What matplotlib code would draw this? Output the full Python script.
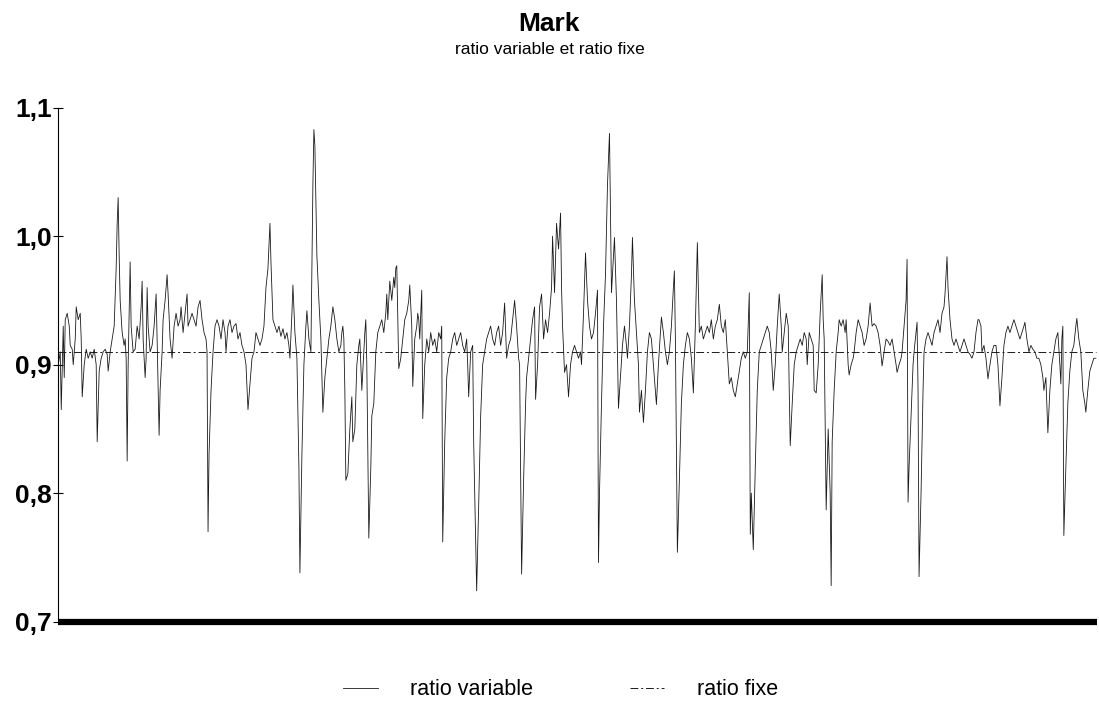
import matplotlib
matplotlib.use('Agg')
import matplotlib.pyplot as plt

plt.rcParams['font.family'] = ['Liberation Sans', 'DejaVu Sans']

# ---- data : ratio journalier (variable) et ratio fixe ----
jours = [
    0, 2, 3, 5, 6, 7, 9, 11, 12, 14, 15, 17, 18, 20, 22, 23, 24, 26, 28, 30,
    32, 34, 36, 38, 39, 41, 43, 45, 47, 49, 50, 52, 54, 56, 58, 59, 60, 61, 62, 64,
    66, 67, 68, 69, 70, 72, 73, 75, 77, 79, 81, 83, 84, 85, 87, 88, 89, 90, 92, 94,
    96, 98, 99, 101, 102, 104, 105, 107, 109, 110, 112, 114, 116, 118, 120, 122, 123, 125, 127, 129,
    130, 132, 134, 136, 138, 140, 142, 144, 146, 148, 149, 150, 151, 153, 155, 157, 159, 161, 163, 165,
    167, 168, 170, 172, 174, 176, 178, 180, 182, 184, 186, 188, 190, 192, 194, 196, 198, 200, 202, 204,
    206, 208, 210, 212, 213, 215, 217, 219, 221, 223, 225, 227, 229, 231, 232, 234, 235, 237, 239, 241,
    242, 244, 246, 248, 249, 251, 253, 255, 256, 257, 259, 261, 263, 265, 267, 269, 271, 273, 275, 277,
    279, 281, 283, 284, 285, 286, 287, 288, 290, 292, 294, 295, 297, 299, 301, 302, 303, 304, 306, 307,
    308, 309, 311, 313, 314, 316, 318, 320, 322, 324, 326, 328, 329, 330, 332, 334, 336, 337, 338, 339,
    341, 343, 345, 347, 349, 351, 352, 354, 355, 357, 359, 360, 361, 362, 364, 365, 367, 369, 371, 373,
    375, 377, 379, 381, 383, 384, 385, 387, 389, 391, 393, 395, 397, 399, 401, 403, 405, 407, 409, 410,
    411, 413, 415, 416, 418, 419, 421, 423, 425, 427, 429, 431, 433, 435, 437, 439, 441, 443, 445, 447,
    449, 451, 453, 455, 457, 459, 461, 462, 464, 466, 468, 469, 471, 473, 475, 477, 478, 480, 482, 484,
    486, 488, 490, 492, 494, 495, 497, 499, 501, 503, 504, 505, 507, 509, 511, 513, 515, 517, 519, 521,
    523, 524, 526, 528, 530, 532, 534, 536, 538, 540, 541, 542, 544, 546, 548, 550, 552, 553, 554, 556,
    557, 559, 561, 563, 565, 567, 569, 570, 572, 574, 575, 577, 579, 581, 582, 584, 586, 588, 590, 592,
    594, 596, 599, 601, 603, 604, 606, 608, 610, 612, 614, 616, 617, 618, 620, 622, 624, 626, 628, 630,
    632, 634, 636, 638, 640, 641, 642, 644, 646, 648, 650, 652, 654, 656, 658, 660, 662, 664, 666, 668,
    670, 672, 674, 676, 678, 680, 682, 684, 686, 688, 690, 692, 693, 694, 696, 698, 700, 702, 704, 706,
    708, 710, 712, 714, 716, 718, 720, 722, 724, 725, 727, 729, 731, 732, 733, 735, 737, 739, 741, 743,
    745, 747, 749, 750, 752, 754, 756, 757, 759, 761, 763, 765, 766, 767, 769, 771, 773, 774, 775, 777,
    779, 781, 782, 784, 786, 788, 789, 791, 792, 794, 796, 797, 799, 801, 803, 805, 807, 809, 811, 813,
    815, 817, 819, 821, 823, 825, 827, 829, 831, 833, 835, 837, 839, 840, 842, 844, 845, 847, 849, 850,
    851, 852, 854, 856, 857, 859, 860, 861, 862, 864, 866, 867, 869, 871, 873, 875, 877, 879, 881, 883,
    885, 887, 888, 890, 891, 893, 895, 897, 899, 901, 903, 905, 907, 909, 911, 913, 915, 917, 919, 921,
    922, 924, 925, 927, 929, 931, 933, 935, 937, 939, 941, 943, 945, 947, 949, 951, 953, 955, 957, 959,
    961, 963, 965, 967, 968, 970, 972, 974, 976, 978, 980, 982, 984, 986, 987, 989, 991, 993, 995, 997,
    999, 1001, 1003, 1004, 1005, 1006, 1007, 1009, 1011, 1013, 1015, 1017, 1019, 1020, 1022, 1024, 1026, 1028, 1029, 1031,
    1033, 1035, 1037, 1039,
]

ratio_variable = [
    0.900, 0.910, 0.865, 0.930, 0.890, 0.935, 0.940, 0.930, 0.915, 0.912, 0.900, 0.920, 0.945, 0.935, 0.940, 0.920, 0.875, 0.900, 0.912, 0.905,
    0.910, 0.905, 0.912, 0.900, 0.840, 0.895, 0.905, 0.910, 0.912, 0.908, 0.895, 0.910, 0.920, 0.930, 0.975, 1.010, 1.030, 0.985, 0.950, 0.925,
    0.915, 0.920, 0.905, 0.825, 0.900, 0.980, 0.930, 0.910, 0.912, 0.930, 0.920, 0.945, 0.965, 0.920, 0.890, 0.905, 0.960, 0.930, 0.910, 0.915,
    0.930, 0.955, 0.920, 0.845, 0.880, 0.910, 0.935, 0.950, 0.970, 0.955, 0.920, 0.905, 0.930, 0.940, 0.930, 0.935, 0.945, 0.925, 0.940, 0.955,
    0.930, 0.935, 0.940, 0.935, 0.930, 0.945, 0.950, 0.935, 0.925, 0.920, 0.910, 0.770, 0.830, 0.880, 0.910, 0.930, 0.935, 0.930, 0.920, 0.935,
    0.925, 0.910, 0.930, 0.935, 0.925, 0.930, 0.932, 0.920, 0.925, 0.915, 0.910, 0.900, 0.865, 0.885, 0.905, 0.910, 0.925, 0.920, 0.915, 0.920,
    0.930, 0.960, 0.975, 1.010, 0.980, 0.935, 0.930, 0.925, 0.930, 0.922, 0.928, 0.920, 0.925, 0.915, 0.905, 0.940, 0.962, 0.925, 0.905, 0.820,
    0.738, 0.830, 0.900, 0.930, 0.942, 0.920, 0.910, 1.040, 1.083, 1.070, 0.985, 0.950, 0.920, 0.863, 0.890, 0.905, 0.920, 0.930, 0.945, 0.935,
    0.920, 0.910, 0.915, 0.925, 0.930, 0.920, 0.880, 0.810, 0.815, 0.850, 0.875, 0.840, 0.850, 0.900, 0.915, 0.920, 0.900, 0.880, 0.910, 0.925,
    0.935, 0.900, 0.765, 0.820, 0.860, 0.870, 0.910, 0.925, 0.930, 0.935, 0.925, 0.940, 0.955, 0.935, 0.965, 0.950, 0.968, 0.960, 0.975, 0.977,
    0.897, 0.905, 0.920, 0.935, 0.940, 0.950, 0.962, 0.930, 0.883, 0.920, 0.930, 0.940, 0.935, 0.920, 0.958, 0.858, 0.900, 0.920, 0.910, 0.925,
    0.915, 0.920, 0.910, 0.925, 0.920, 0.930, 0.762, 0.840, 0.890, 0.905, 0.910, 0.920, 0.925, 0.915, 0.920, 0.925, 0.915, 0.910, 0.920, 0.900,
    0.875, 0.910, 0.915, 0.840, 0.760, 0.724, 0.790, 0.860, 0.900, 0.910, 0.920, 0.925, 0.930, 0.920, 0.915, 0.925, 0.930, 0.915, 0.925, 0.948,
    0.905, 0.915, 0.920, 0.935, 0.950, 0.930, 0.905, 0.900, 0.737, 0.810, 0.870, 0.890, 0.905, 0.920, 0.935, 0.945, 0.873, 0.900, 0.945, 0.955,
    0.920, 0.935, 0.925, 0.940, 0.960, 1.000, 0.956, 1.010, 0.990, 1.018, 0.960, 0.930, 0.894, 0.900, 0.875, 0.900, 0.910, 0.915, 0.910, 0.905,
    0.910, 0.900, 0.940, 0.987, 0.950, 0.930, 0.920, 0.925, 0.940, 0.958, 0.746, 0.800, 0.870, 0.930, 0.970, 1.040, 1.080, 1.020, 0.956, 0.985,
    0.999, 0.950, 0.866, 0.890, 0.915, 0.930, 0.915, 0.905, 0.930, 0.970, 0.999, 0.950, 0.925, 0.900, 0.863, 0.880, 0.855, 0.880, 0.910, 0.925,
    0.920, 0.900, 0.869, 0.900, 0.925, 0.937, 0.925, 0.910, 0.900, 0.910, 0.930, 0.960, 0.973, 0.920, 0.754, 0.810, 0.870, 0.900, 0.915, 0.925,
    0.920, 0.905, 0.878, 0.930, 0.995, 0.960, 0.925, 0.930, 0.920, 0.925, 0.930, 0.925, 0.935, 0.920, 0.930, 0.935, 0.947, 0.930, 0.925, 0.935,
    0.910, 0.885, 0.890, 0.880, 0.875, 0.885, 0.895, 0.905, 0.910, 0.905, 0.910, 0.956, 0.768, 0.800, 0.756, 0.820, 0.880, 0.910, 0.915, 0.920,
    0.925, 0.930, 0.925, 0.910, 0.880, 0.900, 0.930, 0.955, 0.930, 0.910, 0.925, 0.940, 0.930, 0.880, 0.837, 0.870, 0.900, 0.910, 0.915, 0.920,
    0.915, 0.925, 0.920, 0.900, 0.925, 0.920, 0.915, 0.880, 0.878, 0.900, 0.940, 0.970, 0.935, 0.920, 0.787, 0.850, 0.800, 0.728, 0.840, 0.880,
    0.910, 0.925, 0.935, 0.930, 0.935, 0.925, 0.935, 0.900, 0.892, 0.900, 0.905, 0.910, 0.925, 0.935, 0.930, 0.925, 0.915, 0.920, 0.930, 0.948,
    0.930, 0.932, 0.930, 0.925, 0.915, 0.899, 0.910, 0.920, 0.918, 0.915, 0.920, 0.910, 0.900, 0.894, 0.900, 0.905, 0.910, 0.930, 0.950, 0.982,
    0.793, 0.820, 0.860, 0.900, 0.910, 0.925, 0.933, 0.880, 0.735, 0.800, 0.880, 0.910, 0.920, 0.925, 0.920, 0.915, 0.925, 0.930, 0.935, 0.925,
    0.940, 0.945, 0.955, 0.984, 0.960, 0.935, 0.920, 0.915, 0.920, 0.915, 0.910, 0.915, 0.920, 0.915, 0.910, 0.908, 0.905, 0.910, 0.925, 0.935,
    0.935, 0.930, 0.910, 0.915, 0.905, 0.889, 0.900, 0.910, 0.915, 0.915, 0.900, 0.868, 0.890, 0.915, 0.925, 0.930, 0.925, 0.930, 0.935, 0.930,
    0.925, 0.920, 0.925, 0.930, 0.933, 0.920, 0.910, 0.915, 0.912, 0.910, 0.905, 0.905, 0.900, 0.890, 0.880, 0.890, 0.847, 0.880, 0.900, 0.910,
    0.920, 0.925, 0.900, 0.885, 0.920, 0.930, 0.767, 0.820, 0.870, 0.895, 0.910, 0.915, 0.930, 0.936, 0.920, 0.910, 0.880, 0.870, 0.863, 0.880,
    0.895, 0.900, 0.905, 0.905,
]

ratio_fixe = 0.91
y_ticks = [0.7, 0.8, 0.9, 1.0, 1.1]
y_labels = ['0,7', '0,8', '0,9', '1,0', '1,1']

fig = plt.figure(figsize=(10.99, 7.04), dpi=100)
ax = fig.add_axes([0.053, 0.117, 0.945, 0.73])

ax.plot(jours, ratio_variable, color='#1a1a1a', lw=0.6, label='ratio variable')
ax.plot([jours[0], jours[-1]], [ratio_fixe, ratio_fixe], color='#1a1a1a', lw=0.7,
        linestyle=(0, (8, 3, 2, 3)), label='ratio fixe')

ax.set_ylim(0.7, 1.1)
ax.set_xlim(jours[0], jours[-1] + 1)
ax.set_yticks(y_ticks)
ax.set_yticklabels(y_labels, fontweight='bold')
ax.set_xticks([])
ax.tick_params(axis='y', direction='inout', length=7, width=0.8, labelsize=19, pad=1)

for side in ['top', 'right']:
    ax.spines[side].set_visible(False)
ax.spines['left'].set_linewidth(0.8)
ax.spines['bottom'].set_linewidth(4.5)
ax.spines['bottom'].set_capstyle('butt')

fig.text(0.5, 0.966, 'Mark', ha='center', va='center', fontsize=19, fontweight='bold')
fig.text(0.5, 0.93, 'ratio variable et ratio fixe', ha='center', va='center', fontsize=12.5)

fig.legend(loc='center', bbox_to_anchor=(0.51, 0.02), ncol=2, frameon=False,
           fontsize=15.5, handlelength=1.6, handletextpad=1.5, columnspacing=4.5)

fig.savefig('out.png', dpi=100)
